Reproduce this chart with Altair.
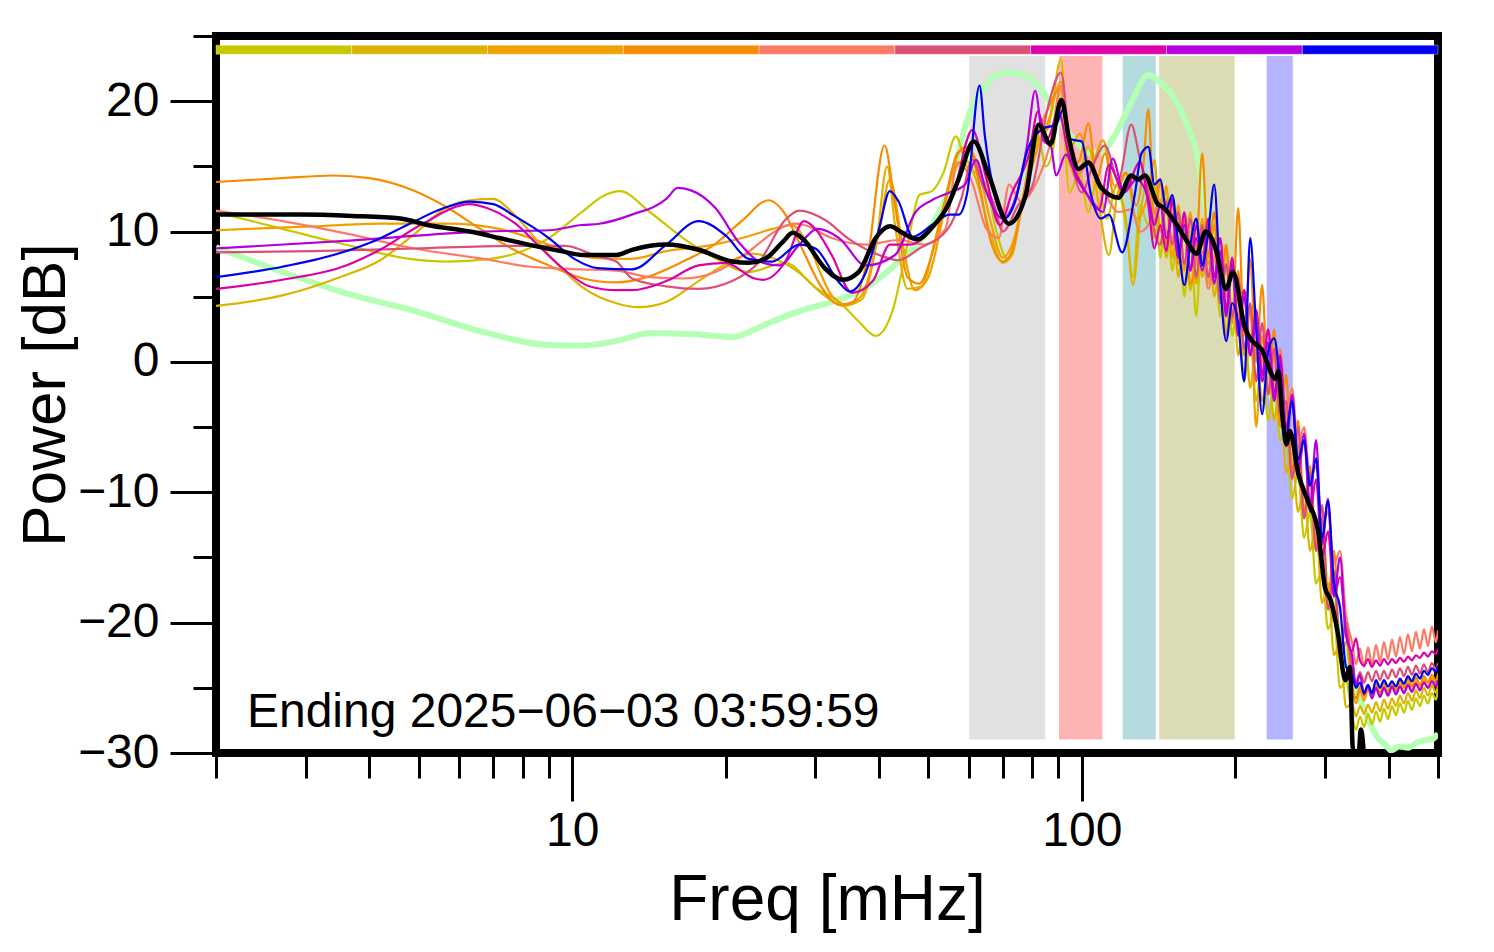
import altair as alt
import pandas as pd

FONT = "Liberation Sans"
X_DOMAIN = [2, 500]
Y_DOMAIN = [-30, 25]
X_MAJOR = [10, 100]
X_MINOR = [2, 3, 4, 5, 6, 7, 8, 9, 20, 30, 40, 50, 60, 70, 80, 90, 200, 300, 400, 500]
Y_MAJOR = [-30, -20, -10, 0, 10, 20]
Y_MINOR = [-25, -15, -5, 5, 15, 25]

SERIES_NAMES = ["d1", "d2", "d3", "d4", "d5", "d6", "d7", "d8", "d9"]
SERIES_COLORS = ["#c8c800", "#dcb400", "#f0a000", "#f88c00", "#ff7a64",
                 "#dc5078", "#dc00aa", "#b400dc", "#0000f0"]

HIGH_F = [135.1, 138.8, 142.6, 146.5, 150.5, 154.7, 158.9, 163.3, 167.7, 172.3,
          177.1, 181.9, 186.9, 192.0, 197.3, 202.7, 208.3, 214.0, 219.9, 225.9,
          232.1, 238.5, 245.0, 251.7, 258.6, 265.7, 273.0, 280.5, 288.2, 296.1,
          304.2, 312.6, 321.1, 330.0]
TAIL_F = [339.0, 345.2, 351.5, 357.9, 364.4, 371.0, 377.8, 384.7, 391.7, 398.8,
          406.1, 413.5, 421.0, 428.7, 436.5, 444.4, 452.5, 460.8, 469.2, 477.7,
          486.4, 495.3, 500.0]

# ---- d1 olive
D1_LOW_F = [2.0, 2.7, 3.5, 4.8, 5.7, 6.9, 7.7, 9.0, 10.45, 11.6, 12.4, 14.2, 16.5, 19.1, 22.2,
            26.2, 30.0, 33.4, 36.5, 39.4, 42.5, 45.5, 48.0, 50.8, 53.5, 56.6, 59.5, 62.0, 65.0,
            68.0, 71.5, 75.0, 79.0, 82.0, 85.0, 88.0, 91.0, 94.5, 99.0, 103.0, 107.0, 112.0,
            117.0, 122.0, 126.0, 130.0]
D1_LOW_DB = [11.5, 10.2, 9.1, 7.9, 7.7, 7.9, 8.3, 9.5, 11.5, 12.8, 13.1, 11.5, 9.5, 7.95, 6.9,
             7.6, 5.7, 4.6, 3.1, 2.0, 3.9, 9.0, 12.8, 13.1, 14.5, 17.3, 15.0, 14.5, 13.5,
             10.0, 7.9, 10.5, 15.5, 17.4, 15.0, 16.5, 21.0, 13.0, 14.5, 11.5, 14.0, 11.0,
             13.5, 10.5, 6.5, 12.0]
D1_HIGH_DB = [10.5, 13.5, 8.0, 12.5, 7.0, 11.0, 5.0, 10.0, 3.5, 10.5, 6.0, 9.5, 3.5, 7.5, 2.0,
              5.0, -1.5, 2.0, -3.0, 0.5, -4.5, -1.5, -6.0, -5.5, -10.5, -8.5, -13.5, -11.5,
              -17.0, -16.0, -20.5, -19.5, -25.0, -24.5]
D1_TAIL_DB = [-27.0, -28.2, -27.2, -28.0, -27.0, -27.8, -26.8, -27.6, -26.6, -27.4, -26.4,
              -27.1, -26.2, -26.9, -26.0, -26.7, -25.8, -26.4, -25.6, -26.2, -25.4, -25.9, -25.2]

# ---- d2 gold
D2_LOW_F = [2.0, 2.7, 3.5, 4.2, 4.9, 5.7, 6.3, 7.0, 7.7, 9.0, 10.5, 12.2, 13.5, 15.3, 17.7,
            20.0, 22.5, 25.0, 28.0, 31.0, 34.0, 37.0, 39.5, 41.5, 43.0, 45.5, 48.5, 52.0, 56.0,
            59.0, 62.0, 66.0, 70.0, 73.0, 77.0, 82.0, 86.0, 91.0, 94.0, 98.0, 103.0, 108.0,
            113.0, 118.0, 122.0, 126.0, 131.0]
D2_LOW_DB = [4.3, 5.1, 6.5, 7.8, 9.8, 11.9, 12.4, 12.5, 11.3, 8.2, 5.7, 4.5, 4.2, 4.6, 6.2,
             7.5, 8.3, 7.9, 6.8, 5.2, 4.3, 4.8, 9.0, 15.0, 10.5, 5.6, 5.8, 10.0, 14.5,
             15.5, 14.0, 10.0, 7.6, 8.2, 13.0, 17.0, 18.0, 23.2, 16.0, 14.0, 16.5, 12.0,
             8.2, 13.0, 11.0, 5.9, 12.0]
D2_HIGH_DB = [14.0, 9.5, 12.5, 8.0, 11.5, 6.5, 10.5, 5.5, 9.0, 6.5, 10.5, 5.0, 8.0, 2.0, 7.5,
              0.5, 3.5, -2.0, 1.5, -3.0, 0.0, -4.5, -1.5, -8.5, -7.0, -11.5, -9.5, -14.5,
              -12.5, -18.5, -17.0, -22.5, -21.5, -26.5]
D2_TAIL_DB = [-26.2, -27.2, -26.4, -27.0, -26.3, -26.9, -26.1, -26.8, -25.9, -26.6, -25.8,
              -26.4, -25.6, -26.2, -25.4, -26.0, -25.2, -25.8, -25.0, -25.6, -24.8, -25.4, -24.8]

# ---- d3 orange
D3_LOW_F = [2.0, 3.1, 4.2, 5.7, 7.2, 8.3, 9.7, 11.2, 13.0, 15.3, 19.0, 22.0, 24.7, 27.0, 29.0,
            32.3, 34.4, 37.0, 40.0, 42.0, 44.5, 47.0, 50.0, 53.0, 56.0, 59.0, 62.0, 66.0, 70.0,
            73.0, 77.0, 82.0, 86.0, 91.0, 95.0, 99.0, 104.0, 110.0, 116.0, 122.0, 128.0]
D3_LOW_DB = [10.1, 10.4, 10.6, 10.6, 10.2, 9.5, 8.5, 7.95, 7.9, 8.5, 9.0, 9.6, 10.2, 10.5, 9.0,
             5.1, 4.4, 5.1, 10.0, 14.0, 9.0, 5.5, 6.5, 10.5, 15.0, 16.5, 15.5, 11.0, 8.0,
             9.0, 12.5, 16.5, 18.5, 21.5, 16.5, 17.5, 15.0, 17.0, 13.5, 14.5, 11.0]
D3_HIGH_DB = [13.0, 15.5, 10.0, 13.5, 8.0, 12.0, 7.0, 11.5, 6.0, 11.0, 7.5, 10.5, 5.0, 8.5, 3.5,
              7.0, 0.5, 4.0, -5.0, 2.0, -2.5, 0.5, -4.0, -3.5, -8.5, -6.5, -12.0, -9.0, -14.5,
              -12.0, -19.0, -16.5, -23.0, -21.5]
D3_TAIL_DB = [-25.0, -26.2, -25.2, -26.0, -25.1, -25.8, -25.0, -25.7, -24.9, -25.6, -24.8,
              -25.5, -24.7, -25.4, -24.6, -25.3, -24.5, -25.1, -24.4, -25.0, -24.3, -24.8, -24.2]

# ---- d4 dark orange
D4_LOW_F = [2.0, 2.7, 3.4, 4.0, 4.7, 5.6, 6.6, 7.6, 9.0, 10.5, 12.2, 14.0, 16.5, 19.0, 21.5,
            24.3, 26.0, 28.0, 31.0, 33.4, 35.5, 38.0, 41.0, 43.0, 45.5, 48.0, 51.0, 54.0, 57.0,
            60.0, 63.0, 66.0, 70.0, 73.0, 77.0, 82.0, 86.0, 91.0, 95.0, 99.0, 103.0, 107.0,
            111.0, 116.0, 122.0, 128.0, 132.0]
D4_LOW_DB = [13.8, 14.1, 14.3, 14.1, 13.4, 12.0, 10.2, 8.7, 7.4, 6.4, 6.1, 6.5, 7.7, 9.0, 10.8,
             12.4, 11.5, 9.0, 5.6, 4.4, 4.6, 8.0, 16.6, 12.0, 6.5, 6.0, 8.5, 12.5, 16.0,
             16.5, 13.5, 9.5, 7.7, 8.5, 13.0, 17.5, 19.5, 21.0, 15.0, 15.5, 18.3, 14.0,
             16.0, 12.5, 14.5, 12.0, 15.0]
D4_HIGH_DB = [19.4, 10.5, 14.0, 9.0, 12.5, 7.5, 11.0, 6.0, 8.0, 16.0, 8.0, 11.5, 5.5, 9.0, 3.0,
              11.8, 2.0, 7.9, 0.0, 5.9, -2.5, 2.5, -5.0, -1.0, -8.5, -4.5, -11.5, -8.0, -14.0,
              -11.0, -18.0, -14.5, -22.0, -19.5]
D4_TAIL_DB = [-24.8, -25.8, -24.9, -25.6, -24.8, -25.5, -24.7, -25.4, -24.6, -25.3, -24.5,
              -25.2, -24.4, -25.0, -24.3, -24.9, -24.2, -24.8, -24.1, -24.6, -24.0, -24.5, -23.9]

# ---- d5 salmon
D5_LOW_F = [2.0, 2.7, 3.65, 4.9, 6.7, 8.3, 10.45, 12.2, 14.2, 16.5, 19.1, 22.2, 25.0, 27.2,
            28.5, 32.3, 37.7, 43.7, 49.0, 54.0, 57.0, 60.6, 65.0, 68.7, 72.0, 76.0, 82.0, 87.0,
            91.0, 95.0, 99.0, 103.0, 109.0, 118.0, 125.0, 130.0]
D5_LOW_DB = [11.6, 10.8, 9.8, 8.7, 7.9, 7.3, 7.1, 7.0, 6.5, 6.4, 6.9, 8.46, 10.0, 10.6,
             10.5, 9.5, 9.0, 9.35, 9.0, 10.2, 15.3, 14.0, 10.2, 9.5, 13.6, 12.3, 14.0, 17.0,
             21.2, 16.1, 14.5, 15.3, 13.6, 11.5, 11.7, 10.0]
D5_HIGH_DB = [10.5, 11.5, 12.3, 10.0, 9.5, 11.0, 7.5, 9.5, 7.9, 8.5, 5.6, 8.0, 9.5, 5.0, 7.0,
              3.5, 5.5, 1.5, 3.5, 0.0, 2.5, -1.5, 1.0, -4.0, -2.0, -6.5, -5.0, -9.0, -8.0,
              -12.5, -11.5, -15.5, -14.5, -19.5]
D5_TAIL_DB = [-21.5, -23.2, -22.0, -23.4, -21.9, -23.2, -21.7, -23.0, -21.5, -22.8, -21.3,
              -22.6, -21.1, -22.4, -20.9, -22.2, -20.7, -22.0, -20.5, -21.8, -20.3, -21.5, -20.6]

# ---- d6 rose
D6_LOW_F = [2.0, 3.1, 4.9, 7.7, 9.7, 11.2, 12.2, 13.1, 15.3, 17.7, 20.6, 23.3, 26.2, 27.9,
            31.3, 35.0, 40.0, 43.7, 48.0, 54.6, 58.0, 61.0, 64.0, 67.0, 70.0, 75.0, 80.0, 86.0,
            91.0, 95.0, 100.0, 105.0, 111.0, 118.0, 125.0, 130.0]
D6_LOW_DB = [8.4, 8.5, 8.7, 8.9, 8.9, 8.1, 7.7, 6.4, 5.8, 5.6, 6.2, 7.7, 10.9, 11.6,
             10.9, 9.4, 8.2, 7.8, 8.7, 10.2, 12.5, 15.5, 13.5, 12.3, 10.0, 12.0, 13.5, 19.7,
             22.2, 16.0, 13.0, 15.0, 16.6, 14.0, 18.2, 15.6]
D6_HIGH_DB = [13.0, 10.0, 9.0, 12.3, 9.0, 11.5, 7.5, 11.0, 6.5, 10.5, 6.5, 9.5, 4.5, 7.5, 3.5,
              6.5, 1.0, 4.5, -1.5, 3.0, -2.5, 1.0, -4.0, -3.0, -9.0, -5.0, -12.0, -8.5, -14.5,
              -11.0, -19.0, -16.0, -22.5, -20.0]
D6_TAIL_DB = [-23.6, -24.6, -23.8, -24.6, -23.8, -24.5, -23.7, -24.4, -23.7, -24.3, -23.6,
              -24.2, -23.5, -24.1, -23.4, -24.0, -23.3, -23.9, -23.2, -23.8, -23.1, -23.6, -23.1]

# ---- d7 magenta
D7_LOW_F = [2.0, 2.7, 3.6, 4.24, 5.04, 6.3, 6.8, 7.74, 8.7, 9.7, 10.8, 12.2, 13.1, 15.3, 17.7,
            20.0, 22.8, 23.7, 26.2, 28.5, 30.0, 32.3, 35.4, 38.9, 42.0, 46.0, 52.0, 56.0, 61.0,
            65.0, 69.0, 73.0, 79.0, 82.0, 85.5, 90.0, 94.0, 101.0, 108.0, 113.0, 121.0, 130.0]
D7_LOW_DB = [5.6, 6.3, 7.4, 8.7, 10.5, 12.1, 11.8, 10.6, 8.7, 7.0, 5.8, 5.5, 5.5, 6.2, 7.4,
             7.6, 6.4, 6.3, 7.7, 10.8, 10.2, 8.2, 5.3, 6.2, 9.0, 9.0, 10.8, 13.0, 17.8,
             14.0, 10.5, 13.0, 16.1, 19.2, 17.1, 19.2, 16.1, 13.3, 11.7, 15.1, 13.0, 15.3]
D7_HIGH_DB = [12.0, 8.7, 10.5, 8.5, 12.5, 8.0, 11.5, 7.0, 10.5, 7.5, 11.0, 6.5, 9.5, 4.0, 8.0,
              2.5, 5.5, 0.5, 4.0, -1.0, 2.5, -2.5, 0.5, -5.0, -3.0, -8.5, -6.0, -11.5, -9.0,
              -15.0, -13.0, -18.0, -16.5, -20.8]
D7_TAIL_DB = [-22.2, -21.2, -22.9, -23.3, -22.8, -23.4, -22.9, -23.3, -22.8, -23.2, -22.8,
              -23.1, -22.7, -23.0, -22.6, -22.9, -22.5, -22.7, -22.3, -22.6, -22.2, -22.4, -22.0]

# ---- d8 purple
D8_LOW_F = [2.0, 3.65, 6.67, 9.0, 10.45, 11.3, 13.1, 15.3, 16.1, 17.0, 19.1, 21.2, 23.3, 25.5,
            27.9, 30.3, 33.4, 37.7, 43.0, 47.2, 50.8, 55.0, 59.0, 62.0, 65.0, 70.0, 74.0, 78.0,
            81.0, 84.0, 87.0, 89.0, 93.0, 98.0, 104.0, 110.0, 115.0, 121.0, 128.0]
D8_LOW_DB = [8.7, 9.3, 10.0, 10.1, 10.5, 10.6, 11.3, 12.5, 13.35, 13.2, 11.8, 9.2, 7.7, 7.4,
             9.0, 10.2, 9.5, 7.4, 8.2, 11.5, 12.4, 13.0, 13.6, 15.5, 13.0, 11.0, 12.5, 16.5,
             20.8, 17.0, 16.5, 14.3, 15.9, 14.0, 12.5, 11.5, 15.6, 13.0, 14.0]
D8_HIGH_DB = [12.5, 10.5, 12.0, 9.5, 11.0, 8.0, 10.5, 7.0, 9.5, 7.0, 10.0, 6.0, 8.5, 3.5, 7.5,
              2.0, 5.0, 0.5, 3.0, -1.5, 1.5, -3.0, 0.0, -6.5, -2.5, -8.0, -5.5, -11.0, -6.0,
              -14.0, -10.5, -18.0, -15.0, -21.0]
D8_TAIL_DB = [-22.5, -24.8, -24.0, -25.5, -24.8, -25.8, -25.0, -25.7, -25.0, -25.6, -24.9,
              -25.5, -24.9, -25.4, -24.8, -25.3, -24.7, -25.2, -24.6, -25.0, -24.5, -24.9, -24.4]

# ---- d9 blue
D9_LOW_F = [2.0, 2.7, 3.4, 4.1, 4.8, 5.6, 6.3, 7.0, 7.7, 9.0, 10.1, 11.2, 13.1, 15.3, 17.7,
            20.0, 22.2, 24.7, 27.9, 30.0, 33.4, 35.0, 37.7, 40.0, 42.0, 43.7, 46.6, 50.8, 55.0,
            57.3, 59.6, 63.0, 64.5, 67.5, 70.5, 74.0, 78.0, 84.0, 89.0, 92.0, 95.0, 100.0,
            104.0, 109.0, 113.0, 120.0, 127.0, 131.0]
D9_LOW_DB = [6.5, 7.3, 8.2, 9.3, 10.6, 11.8, 12.3, 12.1, 11.2, 9.5, 7.9, 7.2, 7.1, 9.0, 10.8,
             9.7, 7.9, 7.7, 9.0, 8.7, 6.1, 5.4, 6.9, 10.2, 13.1, 12.3, 9.6, 10.5, 11.3,
             11.3, 13.0, 21.2, 17.4, 12.8, 11.0, 12.3, 16.1, 17.9, 18.2, 19.4, 17.1, 16.9,
             13.0, 11.0, 11.3, 8.4, 12.8, 16.0]
D9_HIGH_DB = [16.5, 13.6, 14.0, 11.7, 12.8, 9.0, 5.9, 9.0, 11.0, 7.4, 10.0, 13.6, 6.0, 1.6, 4.5,
              3.0, -1.5, 9.5, 2.5, -4.0, 0.8, 1.8, -1.5, -5.5, -3.0, -7.5, -6.0, -9.5, -7.4,
              -13.5, -10.7, -17.0, -18.8, -23.4]
D9_TAIL_DB = [-24.0, -25.0, -24.6, -25.4, -24.8, -25.4, -24.4, -25.0, -24.4, -24.9, -24.5,
              -24.9, -24.3, -24.7, -24.1, -24.5, -23.9, -24.3, -23.7, -24.0, -23.5, -23.8, -23.3]

# ---- reference (green) and mean (black)
GREEN_F = [2.0, 2.7, 3.65, 4.92, 6.67, 9.0, 10.45, 12.2, 14.2, 17.7, 20.6, 24.0, 27.9, 32.3,
           37.7, 43.7, 50.8, 54.6, 57.3, 59.6, 64.0, 70.5, 77.6, 81.0, 85.0, 90.0, 96.9, 104.0,
           111.0, 115.0, 125.0, 135.0, 143.0, 152.0, 162.0, 169.0, 173.0, 185.0, 200.0, 220.0,
           250.0, 280.0, 310.0, 340.0, 364.0, 380.0, 395.0, 404.0, 420.0, 437.0, 455.0, 476.0,
           490.0, 500.0]
GREEN_DB = [8.8, 6.9, 5.2, 3.9, 2.3, 1.3, 1.25, 1.6, 2.2, 2.1, 1.9, 2.9, 3.9, 4.6,
            5.7, 7.7, 10.5, 13.0, 16.0, 18.6, 20.9, 22.2, 22.0, 21.4, 20.4, 18.6, 17.0, 16.0,
            16.3, 17.1, 19.9, 22.0, 21.4, 20.2, 17.9, 15.6, 12.8, 9.0, 5.0, 0.5,
            -5.5, -11.5, -18.5, -24.5, -27.3, -28.8, -29.4, -29.8, -29.5, -29.6, -29.2, -29.0,
            -28.9, -28.5]
MEAN_F = [2.0, 2.9, 3.7, 4.6, 5.2, 6.3, 7.2, 8.2, 9.5, 10.5, 12.2, 13.1, 15.3, 17.7, 20.6,
          22.2, 24.0, 25.9, 27.1, 28.5, 31.3, 34.0, 36.5, 39.4, 42.0, 44.5, 47.5, 50.8, 54.6,
          57.3, 61.4, 65.7, 71.9, 77.6, 82.3, 86.8, 91.2, 94.5, 98.5, 103.0, 109.0, 118.0,
          125.0, 129.0, 133.0, 141.0, 144.0, 152.0, 160.0, 168.0, 175.0, 183.0, 192.0, 198.0,
          209.0, 216.0, 225.0, 240.0, 243.0, 248.0, 252.0, 256.0, 266.0, 278.0, 291.0, 300.0,
          308.0, 318.0, 329.0, 336.0, 340.0, 348.0, 353.0, 360.0]
MEAN_DB = [11.3, 11.3, 11.2, 11.0, 10.5, 10.0, 9.5, 9.0, 8.5, 8.2, 8.2, 8.6, 9.0, 8.6, 7.7,
           7.6, 7.95, 9.2, 9.9, 9.35, 7.2, 6.3, 6.9, 9.5, 10.4, 9.9, 9.4, 10.3, 12.0,
           14.0, 16.9, 14.3, 10.6, 12.8, 18.2, 16.7, 20.1, 17.0, 14.8, 15.3, 13.4, 12.6,
           14.3, 14.0, 14.3, 12.1, 11.9, 10.8, 9.4, 8.3, 10.0, 8.7, 5.6, 6.9,
           2.6, 1.6, 1.0, -1.3, -0.7, -4.5, -6.3, -5.3, -8.6, -10.7, -13.0, -17.3,
           -18.3, -20.8, -24.4, -23.4, -29.5, -31.0, -28.2, -32.0]

BAND_LO = [60, 90, 120, 141.5, 230]
BAND_HI = [85, 110, 140, 200, 260]
BAND_COLORS = ["#e1e1e1", "#ffb4b4", "#b4dcdf", "#dcdcb4", "#b4b4ff"]
BAND_Y = [-29.0, 23.5]
BAR_Y = [23.6, 24.3]
GREEN_COLOR = "#b4ffb4"
ANNOT_TEXT = "Ending 2025\u221206\u221203 03:59:59"
ANNOT_POS = [2.3, -28.0]

SERIES_DATA = [
    (D1_LOW_F, D1_LOW_DB, D1_HIGH_DB, D1_TAIL_DB),
    (D2_LOW_F, D2_LOW_DB, D2_HIGH_DB, D2_TAIL_DB),
    (D3_LOW_F, D3_LOW_DB, D3_HIGH_DB, D3_TAIL_DB),
    (D4_LOW_F, D4_LOW_DB, D4_HIGH_DB, D4_TAIL_DB),
    (D5_LOW_F, D5_LOW_DB, D5_HIGH_DB, D5_TAIL_DB),
    (D6_LOW_F, D6_LOW_DB, D6_HIGH_DB, D6_TAIL_DB),
    (D7_LOW_F, D7_LOW_DB, D7_HIGH_DB, D7_TAIL_DB),
    (D8_LOW_F, D8_LOW_DB, D8_HIGH_DB, D8_TAIL_DB),
    (D9_LOW_F, D9_LOW_DB, D9_HIGH_DB, D9_TAIL_DB),
]

x_scale = alt.Scale(type="log", domain=X_DOMAIN, nice=False)
y_scale = alt.Scale(domain=Y_DOMAIN, nice=False, zero=False)

x_major = alt.Axis(values=X_MAJOR, orient="bottom", tickSize=48, tickWidth=3, tickColor="black",
                   labelFontSize=48, labelFont=FONT, labelColor="black", labelPadding=6,
                   labelFlush=False, format="d", domain=False, grid=False,
                   title="Freq [mHz]", titleFontSize=64, titleFont=FONT, titleFontWeight="normal",
                   titleColor="black", titleX=611, titleY=166, titleAlign="center",
                   titleBaseline="alphabetic")
x_minor = alt.Axis(values=X_MINOR, orient="bottom", tickSize=25, tickWidth=3, tickColor="black",
                   labels=False, domain=False, grid=False, title="")
y_major = alt.Axis(values=Y_MAJOR, orient="left", tickSize=46, tickWidth=3, tickColor="black",
                   labelFontSize=48, labelFont=FONT, labelColor="black", labelPadding=11,
                   labelFlush=False, domain=False, grid=False,
                   title="Power [dB]", titleFontSize=62, titleFont=FONT, titleFontWeight="normal",
                   titleColor="black", titleAngle=270, titleX=-152, titleY=358.5,
                   titleAlign="center", titleBaseline="alphabetic")
y_minor = alt.Axis(values=Y_MINOR, orient="left", tickSize=23, tickWidth=3, tickColor="black",
                   labels=False, domain=False, grid=False, title="")

# bands
bands_df = pd.DataFrame({"lo": BAND_LO, "hi": BAND_HI, "c": BAND_COLORS,
                         "y0": [BAND_Y[0]] * len(BAND_LO), "y1": [BAND_Y[1]] * len(BAND_LO)})
bands = alt.Chart(bands_df).mark_rect(stroke="white", strokeWidth=1).encode(
    x=alt.X("lo:Q", scale=x_scale, axis=x_major),
    x2="hi:Q",
    y=alt.Y("y0:Q", scale=y_scale, axis=y_major),
    y2="y1:Q",
    color=alt.Color("c:N", scale=None),
)

green_df = pd.DataFrame({"f": GREEN_F, "db": GREEN_DB})
green = alt.Chart(green_df).mark_line(color=GREEN_COLOR, strokeWidth=6, clip=True,
                                      interpolate="monotone").encode(
    x=alt.X("f:Q", scale=x_scale, axis=x_minor),
    y=alt.Y("db:Q", scale=y_scale, axis=y_minor),
)

layers = [bands, green]
for name, color, (lf, ld, hd, td) in zip(SERIES_NAMES, SERIES_COLORS, SERIES_DATA):
    fs = list(lf) + HIGH_F + TAIL_F
    ds = list(ld) + list(hd) + list(td)
    df = pd.DataFrame({"f": fs, "db": ds, "series": name})
    layers.append(
        alt.Chart(df).mark_line(color=color, strokeWidth=2.2, clip=True,
                                interpolate="monotone").encode(
            x=alt.X("f:Q", scale=x_scale, axis=None),
            y=alt.Y("db:Q", scale=y_scale, axis=None),
        )
    )

mean_df = pd.DataFrame({"f": MEAN_F, "db": MEAN_DB})
layers.append(
    alt.Chart(mean_df).mark_line(color="black", strokeWidth=4.5, clip=True,
                                 interpolate="monotone").encode(
        x=alt.X("f:Q", scale=x_scale, axis=None),
        y=alt.Y("db:Q", scale=y_scale, axis=None),
    )
)

# color key bar along top
n = len(SERIES_COLORS)
ratio = X_DOMAIN[1] / X_DOMAIN[0]
edges = [X_DOMAIN[0] * ratio ** (i / n) for i in range(n + 1)]
bar_df = pd.DataFrame({"lo": edges[:-1], "hi": edges[1:], "c": SERIES_COLORS,
                       "y0": [BAR_Y[0]] * n, "y1": [BAR_Y[1]] * n})
layers.append(
    alt.Chart(bar_df).mark_rect(stroke="#ffffff", strokeWidth=0.6, strokeOpacity=0.6).encode(
        x=alt.X("lo:Q", scale=x_scale, axis=None),
        x2="hi:Q",
        y=alt.Y("y0:Q", scale=y_scale, axis=None),
        y2="y1:Q",
        color=alt.Color("c:N", scale=None),
    )
)

annot_df = pd.DataFrame({"f": [ANNOT_POS[0]], "db": [ANNOT_POS[1]], "t": [ANNOT_TEXT]})
layers.append(
    alt.Chart(annot_df).mark_text(align="left", baseline="alphabetic", font=FONT, fontSize=48,
                                  color="black").encode(
        x=alt.X("f:Q", scale=x_scale, axis=None),
        y=alt.Y("db:Q", scale=y_scale, axis=None),
        text="t:N",
    )
)

chart = alt.layer(*layers).resolve_axis(x="independent", y="independent").properties(
    width=1222,
    height=717,
    autosize=alt.AutoSizeParams(type="none"),
    padding={"left": 208, "top": 28, "right": 48, "bottom": 180},
    background="white",
).configure_view(stroke="black", strokeWidth=8)

chart.save("out.html", embed_options={"renderer": "svg", "actions": False})
